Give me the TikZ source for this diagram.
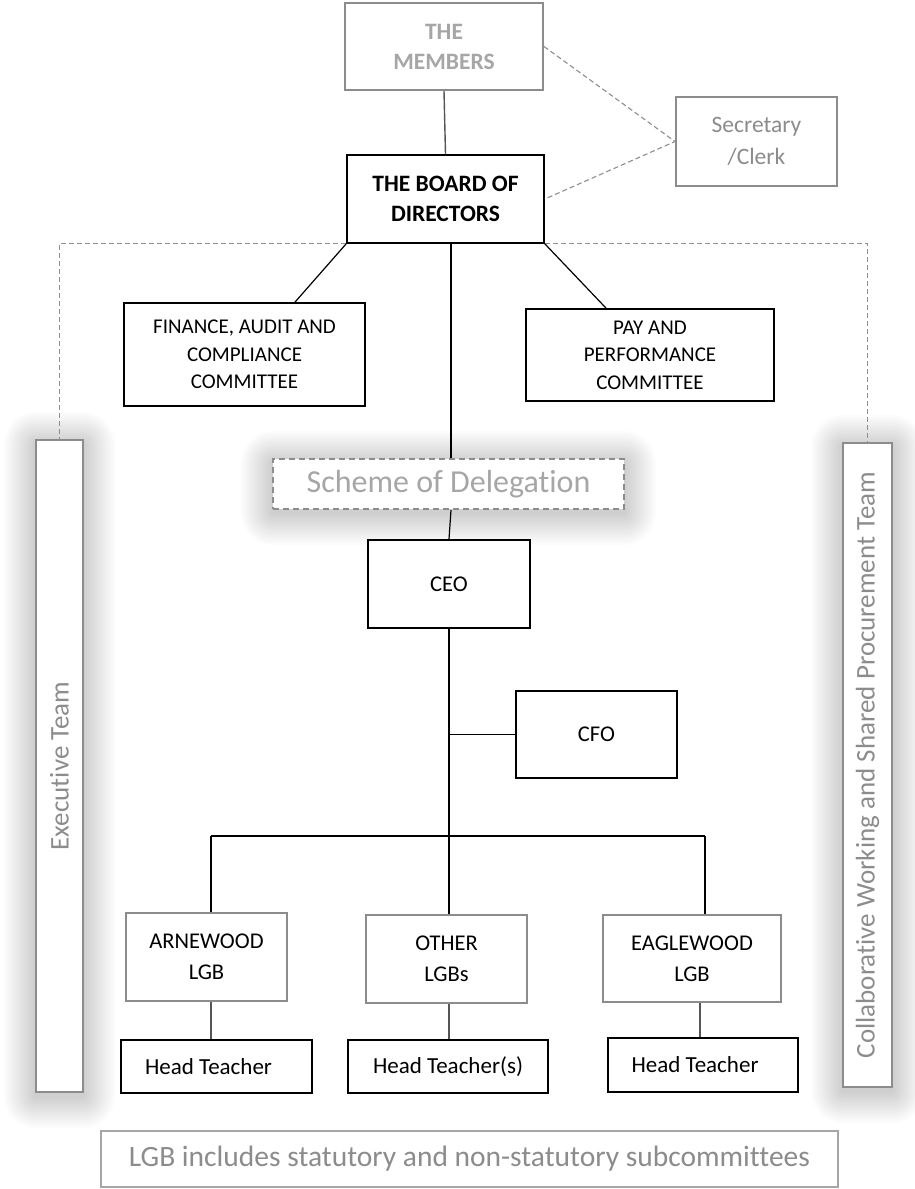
\documentclass[tikz,border=0pt]{standalone}
\usepackage{fontspec}
\setmainfont{Carlito}[Ligatures=NoCommon]
\definecolor{gborder}{HTML}{8C8C8C}
\definecolor{gtext}{HTML}{A6A6A6}
\definecolor{gtext2}{HTML}{8C8C8C}
\definecolor{dline}{HTML}{8E8E8E}
\definecolor{dkline}{HTML}{555555}
\newcommand{\glowrect}[4]{%
  \foreach \r in {2,4,...,32}{%
    \fill[black,opacity=0.011,rounded corners=\r pt] ({#1-\r},{#2-\r+4}) rectangle ({#3+\r},{#4+\r+4});
  }%
}
\begin{document}
\begin{tikzpicture}[x=1pt,y=-1pt,
  box/.style={draw=black, line width=1.8pt, fill=white, inner sep=0pt, align=center, text=black},
  gbox/.style={draw=gborder, line width=2pt, fill=white, inner sep=0pt, align=center},
  conn/.style={line width=1.2pt, draw=black},
  dkconn/.style={line width=1.4pt, draw=dkline},
  dconn/.style={draw=dline, line width=1.1pt, dash pattern=on 5pt off 3pt},
  fbold/.style={font=\fontsize{23.5}{30}\selectfont\bfseries},
  fcomm/.style={font=\fontsize{21}{27.5}\selectfont},
  freg/.style={font=\fontsize{22.5}{31}\selectfont},
  fht/.style={font=\fontsize{23}{28}\selectfont},
]
\useasboundingbox (0,0) rectangle (915,1189);
\fill[white] (0,0) rectangle (915,1189);

% glows
\glowrect{273}{459}{624}{509}
\glowrect{36}{440}{83}{1092}
\glowrect{843}{443}{892}{1087}

% top
\node[gbox, fbold, text=gtext, minimum width=198, minimum height=87] (members) at (444,46.5) {THE\\MEMBERS};
\node[gbox, font=\fontsize{23.5}{32}\selectfont, text=gtext2, minimum width=161, minimum height=89] (secretary) at (756.5,141.5) {Secretary\\/Clerk};
\node[box, fbold, minimum width=197, minimum height=88] (board) at (445.5,199) {THE BOARD OF\\DIRECTORS};

% committees
\node[box, fcomm, minimum width=241, minimum height=103] (finance) at (244.5,354.5) {FINANCE, AUDIT AND\\COMPLIANCE\\COMMITTEE};
\node[box, fcomm, minimum width=248, minimum height=92] (pay) at (650,355) {PAY AND\\PERFORMANCE\\COMMITTEE};

% scheme
\node[draw=gborder, line width=2pt, dash pattern=on 6pt off 4pt, fill=white, inner sep=0pt,
      text=gtext, font=\fontsize{32}{38}\selectfont, minimum width=351, minimum height=50] (scheme) at (448.5,484) {Scheme of Delegation};

% side teams
\node[gbox, line width=1.5pt, rotate=90, text=gtext2, font=\fontsize{27}{32}\selectfont,
      minimum width=652, minimum height=47] (exec) at (59.5,766) {Executive Team};
\node[gbox, line width=1.5pt, rotate=90, text=gtext2, font=\fontsize{27}{32}\selectfont,
      minimum width=644, minimum height=49] (collab) at (867.5,765) {Collaborative Working and Shared Procurement Team};

% executives
\node[box, freg, minimum width=162, minimum height=88] (ceo) at (449,584) {CEO};
\node[box, freg, minimum width=161, minimum height=87] (cfo) at (596.5,734.5) {CFO};

% LGBs
\node[gbox, freg, minimum width=161, minimum height=88] (arnewood) at (206.5,957) {ARNEWOOD\\LGB};
\node[gbox, freg, minimum width=161, minimum height=88] (other) at (446.5,959) {OTHER\\LGBs};
\node[gbox, freg, minimum width=178, minimum height=87] (eagle) at (692,958.5) {EAGLEWOOD\\LGB};

% head teachers
\node[box, fht, minimum width=191, minimum height=53] (ht1) at (216.5,1066.5) {\hspace*{-16pt}Head Teacher};
\node[box, fht, minimum width=200, minimum height=53] (ht2) at (448,1066.5) {Head Teacher(s)};
\node[box, fht, minimum width=190, minimum height=54] (ht3) at (703,1065) {\hspace*{-16pt}Head Teacher};

% note
\node[draw=gtext, line width=1.5pt, fill=white, inner sep=0pt, text=gtext2,
      font=\fontsize{29.5}{35}\selectfont, minimum width=737, minimum height=56] (note) at (469.5,1159) {LGB includes statutory and non-statutory subcommittees};

% coordinates
\coordinate (barL) at (211,836);
\coordinate (barR) at (705,836);
\coordinate (eagleX) at (700,0);

% connectors
\draw[dkconn] (members.south) -- (board.north);
\draw[dconn] (members.east) -- (secretary.west) -- (board.east);
\draw[dconn] (board.south west) -| (exec.east);
\draw[dconn] (board.south east) -| (collab.east);
\draw[conn] (board.south west) -- ([xshift=50.5pt]finance.north);
\draw[conn] (board.south east) -- ([xshift=-44pt]pay.north);
\draw[conn] ([xshift=5.5pt]board.south) -- ([xshift=2.5pt]scheme.north);
\draw[conn] ([xshift=2.5pt]scheme.south) -- (ceo.north);
\draw[conn] (ceo.south) -- (ceo.south |- other.north);
\draw[conn] (ceo.south |- cfo.west) -- (cfo.west);
\draw[conn] (barL) -- (barR);
\draw[conn] (barL) -- (barL |- arnewood.north);
\draw[conn] (barR) -- (barR |- eagle.north);
\draw[dkconn] (barL |- arnewood.south) -- (barL |- ht1.north);
\draw[dkconn] (ceo.south |- other.south) -- (ceo.south |- ht2.north);
\draw[dkconn] (eagleX |- eagle.south) -- (eagleX |- ht3.north);
\end{tikzpicture}
\end{document}
